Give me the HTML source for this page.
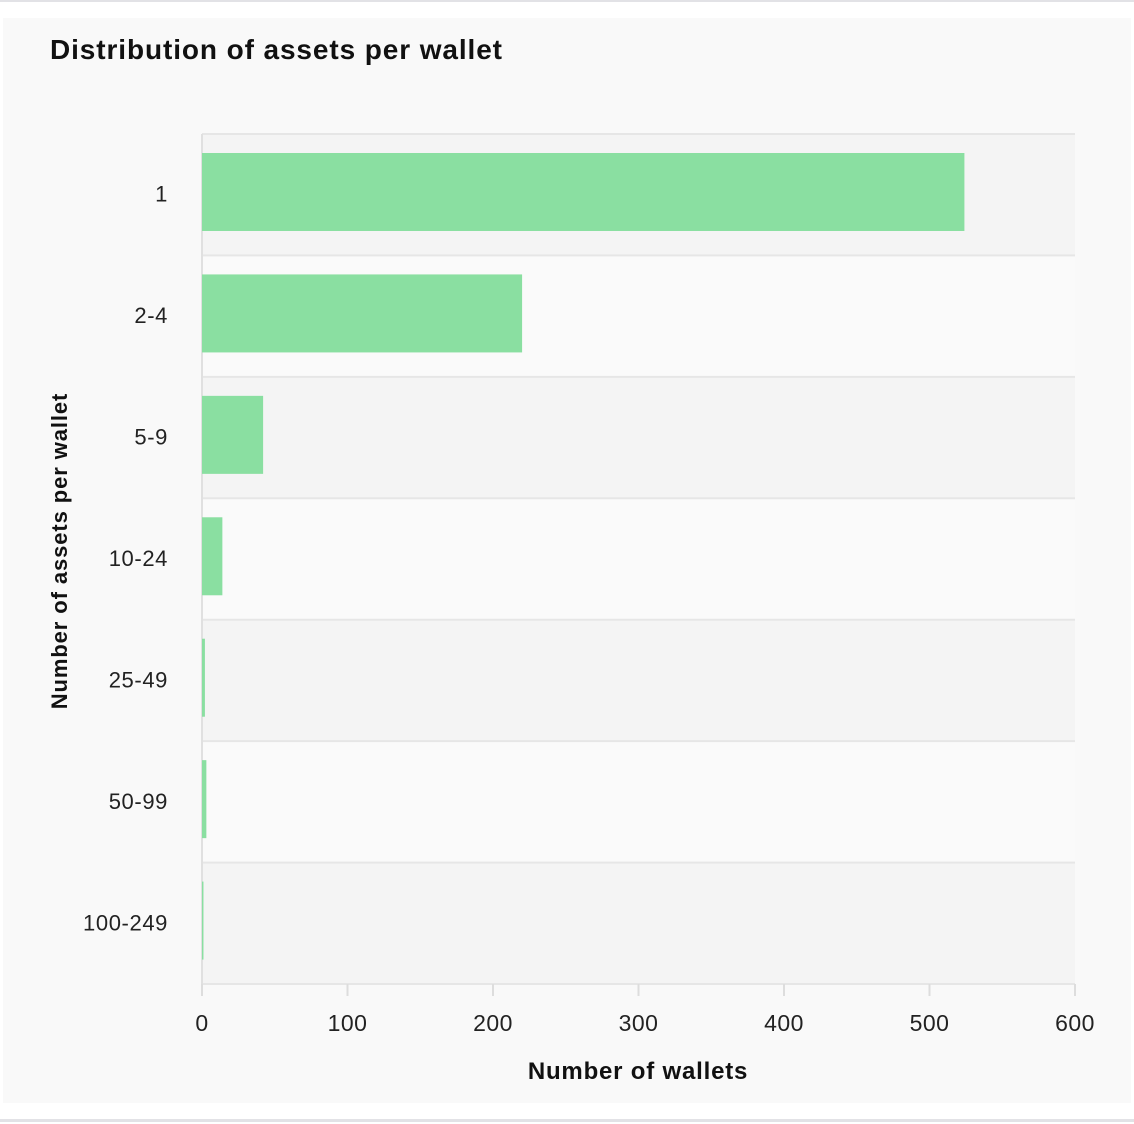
<!DOCTYPE html>
<html><head><meta charset="utf-8"><style>
body{margin:0;width:1134px;height:1124px;background:#fff;font-family:"Liberation Sans",sans-serif;overflow:hidden;position:relative}
</style></head><body>
<div style="position:absolute;left:0;top:0;width:1134px;height:2px;background:#e2e2e6"></div>
<div style="position:absolute;left:0;top:1119px;width:1134px;height:3px;background:#e2e2e6"></div>
<div style="position:absolute;left:3px;top:18px;width:1128px;height:1085px;background:#f9f9f9"></div>
<svg id="chart" width="1134" height="1124" style="position:absolute;left:0;top:0">
<text x="50" y="59" font-size="28" font-weight="bold" fill="#111" letter-spacing="0.9">Distribution of assets per wallet</text>
<g id="g"></g>
</svg>
<script>
const categories=["1","2-4","5-9","10-24","25-49","50-99","100-249"];
const values=[524,220,42,14,2,3,1];
const xTicks=[0,100,200,300,400,500,600];
const X0=202,X1=1075,Y0=134,Y1=984,XMAX=600;
const xs=v=>X0+(v/XMAX)*(X1-X0);
const bandH=(Y1-Y0)/categories.length;
const ys=i=>Y0+i*bandH;
const g=document.getElementById('g');
const NS="http://www.w3.org/2000/svg";
function mk(t,a){const e=document.createElementNS(NS,t);for(const k in a)e.setAttribute(k,a[k]);g.appendChild(e);return e;}
categories.forEach((c,i)=>{
  const b=mk('rect',{x:X0,y:ys(i),width:X1-X0,height:bandH,fill:i%2==0?'#f4f4f4':'#fafafa'});
  
  
  const l=mk('line',{x1:X0,x2:X1,y1:ys(i),y2:ys(i),stroke:'#e6e6e6','stroke-width':2});
  
  
});
const bl=mk('line',{x1:X0,x2:X1,y1:Y1,y2:Y1,stroke:'#e6e6e6','stroke-width':2});


const yl=mk('line',{x1:X0,x2:X0,y1:Y0,y2:Y1,stroke:'#e0e0e0','stroke-width':2});


categories.forEach((c,i)=>{
  const r=mk('rect',{x:X0,y:ys(i)+19,width:Math.max(0,xs(values[i])-X0),height:78,fill:'#8adfa1'});
  
  
  const t=mk('text',{x:168,y:ys(i)+bandH/2+7,'text-anchor':'end','font-size':22,'letter-spacing':0.6,fill:'#222'});
  t.textContent=c;
  
  
});
xTicks.forEach(v=>{
  const tk=mk('line',{x1:xs(v),x2:xs(v),y1:Y1,y2:Y1+12,stroke:'#ddd','stroke-width':2});
  
  
  const t=mk('text',{x:xs(v),y:1031,'text-anchor':'middle','font-size':23,'letter-spacing':0.5,fill:'#222'});
  t.textContent=v;
  
  
});
const xt=mk('text',{x:638,y:1079,'text-anchor':'middle','font-size':24,'font-weight':'bold','letter-spacing':0.8,fill:'#111'});
xt.textContent='Number of wallets';


const yt=mk('text',{x:0,y:0,'text-anchor':'middle','font-size':22,'font-weight':'bold','letter-spacing':0.9,fill:'#111',transform:'translate(67,551) rotate(-90)'});
yt.textContent='Number of assets per wallet';


</script>
</body></html>
